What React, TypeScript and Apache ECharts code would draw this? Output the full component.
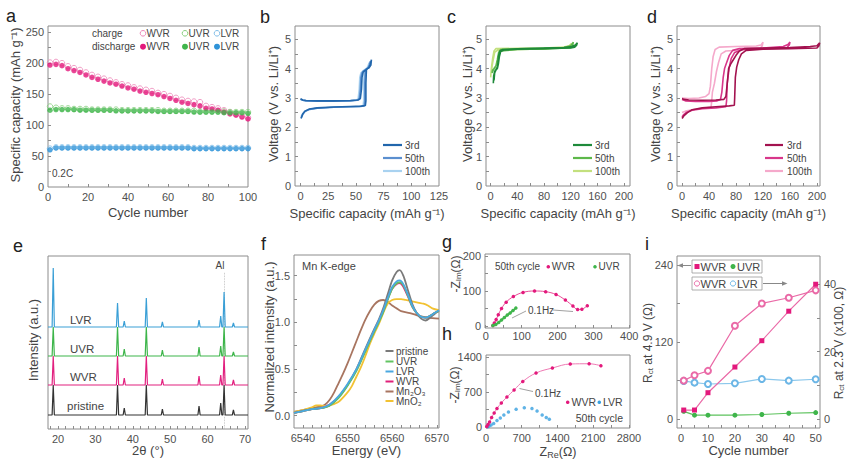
import React, { useEffect, useRef } from 'react';
import * as echarts from 'echarts';

const FONT = '"Liberation Sans", Arial, Helvetica, sans-serif';
const TXT = '#444444';
const LBL = '#505050';
const FRAME = '#8c8c8c';

const PINK = '#e3197c';
const PINK_O = '#ee86b8';
const PINK_L = '#ea6aa7';
const GREEN = '#3fb54b';
const GREEN_O = '#86d07c';
const BLUE = '#2f93d8';
const BLUE_O = '#80bde8';

// ---------- panel a : cycling (every 3rd cycle plotted)
const cyclesA = [1, 4, 7, 10, 13, 16, 19, 22, 25, 28, 31, 34, 37, 40, 43, 46, 49, 52, 55, 58, 61, 64, 67, 70, 73, 76, 79, 82, 85, 88, 91, 94, 97, 100];
const wvrChargeA = [201, 202, 200, 195, 192, 189, 185, 181, 178, 175, 172, 169, 166, 164, 161, 159, 157, 155, 152, 150, 147, 144, 141, 139, 138, 137, 131, 129, 127, 124, 121, 118, 115, 112];
const wvrDischargeA = [197, 198, 196, 191, 188, 185, 181, 177, 174, 171, 168, 166, 163, 160, 158, 155, 153, 151, 149, 146, 143, 140, 137, 135, 133, 131, 127, 126, 124, 121, 118, 116, 113, 110];
const uvrChargeA = [130, 128, 127, 127, 126, 126, 126, 125, 125, 125, 125, 125, 124, 124, 124, 124, 124, 124, 124, 123, 123, 123, 123, 123, 123, 122, 122, 122, 122, 122, 121, 121, 121, 121];
const uvrDischargeA = [124, 125, 125, 125, 125, 124, 124, 124, 124, 124, 124, 123, 123, 123, 123, 123, 123, 123, 122, 122, 122, 122, 122, 122, 121, 121, 121, 121, 121, 120, 120, 120, 120, 119];
const lvrChargeA = [62, 64, 64, 64, 64, 64, 64, 64, 64, 64, 64, 64, 64, 64, 64, 64, 64, 64, 64, 64, 64, 64, 64, 64, 63, 63, 63, 63, 63, 63, 63, 63, 63, 63];
const lvrDischargeA = [60, 63, 63, 63, 63, 63, 63, 63, 63, 63, 63, 63, 63, 63, 63, 63, 63, 63, 63, 63, 63, 63, 63, 63, 62, 62, 62, 62, 62, 62, 62, 62, 62, 62];

// ---------- panel b : LVR voltage profiles [capacity, voltage]
const lvr3rd = [[0, 2.97], [2, 2.93], [5, 2.91], [15, 2.9], [30, 2.9], [45, 2.91], [52, 2.93], [54, 2.98], [55, 3.3], [55.5, 3.7], [56.5, 3.88], [58, 3.93], [60, 3.98], [62, 4.05], [63, 4.15], [64, 4.3], [63.5, 4.12], [62, 4.03], [59.5, 3.98], [59, 3.5], [59, 2.9], [58.5, 2.74], [55, 2.72], [45, 2.71], [30, 2.69], [15, 2.66], [8, 2.62], [4, 2.55], [2, 2.45], [0.5, 2.3]];
const lvr50th = [[0, 2.96], [2, 2.92], [5, 2.9], [15, 2.89], [30, 2.89], [45, 2.9], [51, 2.92], [53, 2.97], [54, 3.3], [54.5, 3.7], [55.5, 3.86], [57, 3.92], [59, 3.97], [61, 4.03], [62, 4.12], [63, 4.25], [62.5, 4.1], [61, 4.02], [58.5, 3.96], [58, 3.5], [58, 2.9], [57.5, 2.73], [54, 2.71], [45, 2.7], [30, 2.68], [15, 2.65], [8, 2.61], [4, 2.54], [2, 2.44], [0.5, 2.32]];
const lvr100th = [[0, 2.95], [2, 2.92], [5, 2.9], [15, 2.89], [30, 2.89], [45, 2.9], [50, 2.92], [52, 2.97], [53, 3.3], [53.5, 3.7], [54.5, 3.85], [56, 3.91], [58, 3.96], [60, 4.02], [61, 4.1], [62, 4.2], [61.5, 4.08], [60, 4.0], [57.5, 3.95], [57, 3.5], [57, 2.9], [56.5, 2.73], [53, 2.71], [45, 2.7], [30, 2.68], [15, 2.65], [8, 2.61], [4, 2.55], [2, 2.47], [0.5, 2.36]];

// ---------- panel c : UVR voltage profiles
const uvr3rd = [[4, 3.5], [4.5, 3.75], [6, 3.9], [8, 3.97], [10, 4.05], [11, 4.2], [12, 4.45], [14, 4.6], [18, 4.65], [40, 4.67], [80, 4.7], [110, 4.72], [122, 4.75], [127, 4.8], [130, 4.88], [129, 4.8], [126, 4.73], [120, 4.7], [80, 4.68], [40, 4.66], [20, 4.63], [15, 4.58], [13, 4.4], [11.5, 4.15], [10, 4.0], [8, 3.95], [6, 3.85], [5, 3.6]];
const uvr50th = [[2, 3.85], [3, 3.95], [5, 4.0], [8, 4.1], [10, 4.3], [12, 4.55], [15, 4.65], [40, 4.67], [80, 4.69], [110, 4.72], [120, 4.78], [124, 4.9], [123, 4.8], [120, 4.71], [80, 4.67], [40, 4.65], [15, 4.6], [12, 4.45], [10, 4.2], [7, 4.05], [4, 3.95], [2, 3.85]];
const uvr100th = [[0, 3.7], [1, 4.0], [3, 4.35], [5, 4.6], [8, 4.68], [40, 4.69], [80, 4.7], [110, 4.73], [118, 4.78], [121, 4.85], [118, 4.75], [80, 4.67], [40, 4.65], [10, 4.62], [6, 4.55], [3, 4.2], [1, 3.9]];

// ---------- panel d : WVR voltage profiles
const wvr3rd = [[0, 2.98], [3, 2.95], [10, 2.93], [30, 2.92], [50, 2.93], [62, 2.95], [65, 3.05], [67, 3.5], [69, 4.0], [72, 4.15], [76, 4.3], [80, 4.45], [85, 4.6], [92, 4.68], [120, 4.7], [160, 4.72], [190, 4.75], [200, 4.78], [204, 4.88], [203, 4.78], [200, 4.7], [160, 4.68], [120, 4.66], [95, 4.62], [88, 4.5], [84, 4.3], [81, 4.05], [79, 3.7], [78, 3.0], [77.5, 2.75], [70, 2.73], [50, 2.7], [30, 2.66], [15, 2.6], [8, 2.5], [3, 2.4], [0, 2.3]];
const wvr50th = [[0, 2.95], [5, 2.9], [20, 2.88], [40, 2.88], [52, 2.9], [57, 2.95], [59, 3.2], [61, 3.7], [63, 4.0], [66, 4.2], [70, 4.45], [75, 4.62], [85, 4.68], [120, 4.7], [150, 4.75], [157, 4.82], [160, 4.9], [159, 4.8], [155, 4.7], [120, 4.68], [90, 4.65], [78, 4.55], [73, 4.35], [70, 4.05], [67, 3.5], [66, 2.9], [65, 2.7], [50, 2.66], [30, 2.63], [15, 2.58], [6, 2.5], [2, 2.42], [0, 2.35]];
const wvr100th = [[0, 3.0], [10, 2.98], [25, 3.0], [35, 3.05], [40, 3.15], [42, 3.4], [44, 4.0], [46, 4.4], [49, 4.65], [55, 4.73], [80, 4.75], [110, 4.77], [117, 4.8], [120, 4.9], [119, 4.78], [115, 4.66], [90, 4.63], [65, 4.6], [58, 4.5], [54, 4.2], [51, 3.9], [48, 3.5], [45, 3.2], [44, 2.9], [43, 2.68], [30, 2.65], [15, 2.6], [5, 2.55], [0, 2.5]];

// ---------- panel e : XRD peaks (2θ) and heights for each sample, stacked baselines
const xrdPeaks = [18.7, 35.9, 37.7, 43.6, 47.9, 57.7, 63.5, 64.4, 66.9];
const pristineHeights = [30, 30, 7, 30, 6, 9, 12, 30, 5];
const wvrHeights = [29, 29, 7, 29, 6, 9, 10, 29, 5];
const uvrHeights = [29, 29, 7, 29, 6, 9, 10, 29, 4];
const lvrHeights = [59, 24, 6, 29, 5, 7, 11, 35, 4];
const xrdBaselines = [14, 44, 73, 102]; // pristine, WVR, UVR, LVR
const alPosition = 64.4;

// ---------- panel f : Mn K-edge XANES [energy, intensity]
const xanesPristine = [[6538, 0.03], [6540, 0.05], [6542, 0.07], [6544, 0.08], [6546, 0.11], [6548, 0.2], [6550, 0.33], [6552, 0.5], [6554, 0.72], [6556, 0.93], [6557, 1.03], [6558, 1.15], [6559, 1.3], [6560, 1.45], [6561, 1.54], [6561.7, 1.56], [6562.5, 1.5], [6563.5, 1.35], [6564.5, 1.2], [6565.5, 1.1], [6566.5, 1.04], [6567.5, 1.02], [6568.5, 1.05], [6569.5, 1.09], [6570.5, 1.13]];
const xanesUVR = [[6538, 0.03], [6540, 0.05], [6542, 0.07], [6544, 0.08], [6546, 0.11], [6548, 0.19], [6550, 0.32], [6552, 0.48], [6554, 0.69], [6556, 0.9], [6557, 1.0], [6558, 1.11], [6559, 1.24], [6560, 1.36], [6561, 1.42], [6561.8, 1.43], [6562.6, 1.39], [6563.5, 1.29], [6564.5, 1.17], [6565.5, 1.1], [6566.5, 1.06], [6567.5, 1.05], [6568.5, 1.07], [6569.5, 1.1], [6570.5, 1.12]];
const xanesLVR = [[6538, 0.03], [6540, 0.05], [6542, 0.07], [6544, 0.08], [6546, 0.12], [6548, 0.21], [6550, 0.34], [6552, 0.5], [6554, 0.71], [6556, 0.92], [6557, 1.02], [6558, 1.13], [6559, 1.26], [6560, 1.38], [6561, 1.44], [6561.7, 1.45], [6562.5, 1.41], [6563.5, 1.3], [6564.5, 1.18], [6565.5, 1.1], [6566.5, 1.06], [6567.5, 1.05], [6568.5, 1.07], [6569.5, 1.1], [6570.5, 1.13]];
const xanesWVR = [[6538, 0.03], [6540, 0.05], [6542, 0.07], [6544, 0.08], [6546, 0.12], [6548, 0.2], [6550, 0.33], [6552, 0.49], [6554, 0.7], [6556, 0.91], [6557, 1.01], [6558, 1.12], [6559, 1.25], [6560, 1.36], [6561, 1.41], [6561.6, 1.42], [6562.4, 1.39], [6563.5, 1.28], [6564.5, 1.17], [6565.5, 1.1], [6566.5, 1.06], [6567.5, 1.05], [6568.5, 1.07], [6569.5, 1.1], [6570.5, 1.12]];
const xanesMn2O3 = [[6538, 0.04], [6540, 0.06], [6542, 0.08], [6544, 0.1], [6545, 0.12], [6546, 0.17], [6547, 0.25], [6548, 0.35], [6549, 0.45], [6550, 0.56], [6551, 0.68], [6552, 0.8], [6553, 0.92], [6554, 1.03], [6555, 1.12], [6556, 1.19], [6557, 1.23], [6558, 1.24], [6559, 1.22], [6560, 1.18], [6561, 1.15], [6562, 1.12], [6564, 1.1], [6566, 1.07], [6568, 1.05], [6570.5, 1.04]];
const xanesMnO2 = [[6538, 0.04], [6540, 0.06], [6542, 0.09], [6543, 0.11], [6544, 0.11], [6545, 0.1], [6546, 0.11], [6548, 0.15], [6550, 0.25], [6551, 0.32], [6552, 0.42], [6553, 0.52], [6554, 0.64], [6555, 0.77], [6556, 0.88], [6557, 0.98], [6558, 1.1], [6559, 1.2], [6560, 1.24], [6561, 1.25], [6562, 1.25], [6563, 1.24], [6564, 1.23], [6565, 1.22], [6566, 1.21], [6567, 1.2], [6568, 1.18], [6569, 1.15], [6570.5, 1.13]];

// ---------- panel g : EIS at 4.9 V [Z_Re, -Z_Im]
const eisG_WVR = [[20, 1], [24, 8], [29, 18], [35, 32], [44, 50], [57, 68], [77, 84], [104, 96], [136, 100], [167, 98], [196, 90], [222, 74], [243, 57], [256, 47], [268, 48], [283, 58]];
const eisG_UVR = [[20, 1], [28, 4], [36, 10], [44, 17], [52, 24], [60, 31], [68, 37], [76, 44], [84, 51]];

// ---------- panel h : EIS at 2.3 V
const eisH_WVR = [[15, 10], [40, 50], [70, 100], [110, 190], [160, 280], [215, 370], [300, 480], [410, 600], [550, 740], [720, 910], [980, 1080], [1300, 1180], [1650, 1260], [2020, 1265], [2250, 1225]];
const eisH_LVR = [[30, 5], [60, 20], [100, 40], [150, 70], [215, 130], [280, 180], [350, 240], [440, 300], [590, 355], [750, 385], [900, 370], [1000, 320], [1100, 240], [1180, 190], [1240, 155]];

// ---------- panel i : Rct vs cycle
const cyclesI = [1, 5, 10, 20, 30, 40, 50];
const rctWVR49 = [14, 14, 41, 81, 122, 168, 210];
const rctUVR49 = [12, 6, 6, 6, 7, 9, 10];
const rctWVR23 = [11.4, 13, 14.3, 27.7, 34.3, 36, 38.2];
const rctLVR23 = [11.3, 10.8, 10.4, 10.6, 11.9, 11.4, 11.8];

// ---------- axis titles
const capName = 'Specific capacity (mAh g⁻¹)';
const voltName = 'Voltage (V vs. Li/Li⁺)';

// ---------- helpers
const pairs = (xs: number[], ys: number[]) => xs.map((x, i) => [x, ys[i]]);
const range = (a: number, b: number, s: number) => {
  const out: number[] = [];
  for (let v = a; v <= b + 1e-9; v += s) out.push(Math.round(v * 1000) / 1000);
  return out;
};
const xrdPattern = (base: number, heights: number[], xmin: number, xmax: number) => {
  const pts: number[][] = [[xmin, base]];
  xrdPeaks.forEach((p, i) => {
    pts.push([p - 0.3, base], [p, base + heights[i]], [p + 0.3, base]);
  });
  pts.push([xmax, base]);
  return pts;
};

function ax(gi: number, min: number, max: number, labels: number[], ticks: number[], extra: any = {}, fmt?: (v: number) => string) {
  return {
    type: 'value',
    gridIndex: gi,
    min,
    max,
    axisLine: { show: false, onZero: false },
    axisTick: { show: ticks.length > 0, inside: true, length: 3, customValues: ticks, lineStyle: { color: FRAME, width: 1 } },
    axisLabel: {
      show: labels.length > 0,
      customValues: labels,
      fontSize: 11,
      color: LBL,
      fontFamily: FONT,
      margin: 4,
      formatter: fmt || ((v: number) => String(v)),
    },
    splitLine: { show: false },
    ...extra,
  };
}

const ln = (xi: number, yi: number, data: any[], color: string, width = 1.5, extra: any = {}) => ({
  type: 'line',
  xAxisIndex: xi,
  yAxisIndex: yi,
  data,
  symbol: 'none',
  showSymbol: false,
  lineStyle: { color, width },
  itemStyle: { color },
  silent: true,
  ...extra,
});
const sc = (xi: number, yi: number, data: any[], color: string, filled: boolean, size = 5.5) => ({
  type: 'scatter',
  xAxisIndex: xi,
  yAxisIndex: yi,
  data,
  symbol: 'circle',
  symbolSize: size,
  itemStyle: filled ? { color } : { color: 'rgba(255,255,255,0)', borderColor: color, borderWidth: 1 },
  silent: true,
});

const T = (text: string, x: number, y: number, size = 10, align = 'left', color = TXT) => ({
  type: 'text',
  x,
  y,
  silent: true,
  style: { text, fill: color, fontSize: size, fontFamily: FONT, align, verticalAlign: 'middle' },
});
const SUBRICH = (size: number) => ({
  sub: { fontSize: Math.round(size * 0.68), fontFamily: FONT, fill: TXT, verticalAlign: 'bottom', padding: [Math.round(size * 0.45), 0, 0, 0] },
});
// axis title (rotated for y axes)
const AT = (text: string, x: number, y: number, size: number, vertical: boolean) => ({
  type: 'text',
  x,
  y,
  rotation: vertical ? Math.PI / 2 : 0,
  silent: true,
  style: { text, fill: TXT, fontSize: size, fontFamily: FONT, align: 'center', verticalAlign: 'middle', rich: SUBRICH(size) },
});
const C = (cx: number, cy: number, r: number, fill: string, stroke?: string) => ({
  type: 'circle',
  silent: true,
  shape: { cx, cy, r },
  style: { fill, stroke: stroke || null, lineWidth: 1 },
});
const L = (x1: number, y1: number, x2: number, y2: number, stroke: string, w = 1) => ({
  type: 'line',
  silent: true,
  shape: { x1, y1, x2, y2 },
  style: { stroke, lineWidth: w },
});

const B3 = ['#2166ac', '#5b8fcf', '#a9d2f0'];
const G3 = ['#1e8a3a', '#5db84a', '#c3e07e'];
const P3 = ['#a3124f', '#d8378a', '#f5a9cb'];
const F6 = ['#7a7a7a', '#62c462', '#4aa8e0', '#e0207a', '#a87560', '#f2c232'];
const F6names = ['pristine', 'UVR', 'LVR', 'WVR', 'Mn₂O₃', 'MnO₂'];

function buildOption() {
  const grids = [
    { left: 48, top: 26, width: 200, height: 161 },
    { left: 295, top: 26, width: 144, height: 160 },
    { left: 486, top: 26, width: 144, height: 160 },
    { left: 677, top: 26, width: 143, height: 160 },
    { left: 48, top: 256, width: 200, height: 173 },
    { left: 294, top: 255, width: 145, height: 173 },
    { left: 485, top: 254, width: 145, height: 74 },
    { left: 486, top: 355, width: 144, height: 73 },
    { left: 677, top: 256, width: 143, height: 172 },
  ].map((g) => ({ ...g, show: true, borderColor: FRAME, borderWidth: 1, backgroundColor: 'transparent' }));

  const xAxis = [
    ax(0, 0, 100, range(0, 100, 20), range(10, 90, 10)),
    ax(1, -5, 125, range(0, 125, 25), range(0, 112.5, 12.5)),
    ax(2, -7, 209, range(0, 200, 40), range(0, 200, 20)),
    ax(3, -7.5, 204.5, range(0, 200, 40), range(0, 200, 20)),
    ax(4, 17.3, 70.8, range(20, 70, 10), range(18, 70, 2)),
    ax(5, 6538, 6570.5, range(6540, 6570, 10), range(6540, 6570, 2)),
    ax(6, -2, 402, range(0, 400, 100), range(0, 400, 50), { axisLabel: { customValues: range(0, 400, 100), fontSize: 11, color: LBL, fontFamily: FONT, margin: 2, formatter: (v: number) => String(v) } }),
    ax(7, 0, 2820, range(0, 2800, 700), range(0, 2800, 350)),
    ax(8, -1.5, 51.6, range(0, 50, 10), range(0, 50, 5)),
  ];
  const yAxis = [
    ax(0, 0, 260, range(0, 250, 50), range(25, 250, 25)),
    ax(1, 0, 5.45, range(0, 5, 1), range(0.5, 5, 0.5)),
    ax(2, 0, 5.45, range(0, 5, 1), range(0.5, 5, 0.5)),
    ax(3, 0, 5.45, range(0, 5, 1), range(0.5, 5, 0.5)),
    ax(4, 0, 173, [], []),
    ax(5, -0.132, 1.722, [0, 0.5, 1, 1.5], range(0, 1.5, 0.25), {}, (v: number) => v.toFixed(1)),
    ax(6, -6, 206, [0, 100, 200], range(0, 200, 50)),
    ax(7, -20, 1440, [0, 700, 1400], range(0, 1400, 350)),
    ax(8, -14, 254, [0, 120, 240], range(0, 240, 60), { position: 'left' }),
    ax(8, -2.67, 48.4, [0, 20, 40], range(0, 40, 10), { position: 'right' }),
  ];

  const series: any[] = [];
  // a
  series.push(sc(0, 0, pairs(cyclesA, wvrChargeA), PINK_O, false));
  series.push(sc(0, 0, pairs(cyclesA, uvrChargeA), GREEN_O, false));
  series.push(sc(0, 0, pairs(cyclesA, lvrChargeA), BLUE_O, false));
  series.push(sc(0, 0, pairs(cyclesA, wvrDischargeA), PINK, true));
  series.push(sc(0, 0, pairs(cyclesA, uvrDischargeA), GREEN, true));
  series.push(sc(0, 0, pairs(cyclesA, lvrDischargeA), BLUE, true));
  // b, c, d (draw 100th first so 3rd is on top)
  [lvr100th, lvr50th, lvr3rd].forEach((d, i) => series.push(ln(1, 1, d, B3[2 - i], 1.6)));
  [uvr100th, uvr50th, uvr3rd].forEach((d, i) => series.push(ln(2, 2, d, G3[2 - i], 1.6)));
  [wvr100th, wvr50th, wvr3rd].forEach((d, i) => series.push(ln(3, 3, d, P3[2 - i], 1.6)));
  // e
  const xmin = 17.3, xmax = 70.8;
  series.push(
    ln(4, 4, xrdPattern(xrdBaselines[0], pristineHeights, xmin, xmax), '#333333', 1.2, {
      z: 3,
      markLine: {
        silent: true,
        symbol: 'none',
        z: 1,
        label: { show: false },
        lineStyle: { type: 'dotted', color: '#b5b5b5', width: 0.8 },
        data: [[{ coord: [alPosition, 0] }, { coord: [alPosition, 157] }]],
      },
    })
  );
  series.push(ln(4, 4, xrdPattern(xrdBaselines[1], wvrHeights, xmin, xmax), '#e2207f', 1.2, { z: 3 }));
  series.push(ln(4, 4, xrdPattern(xrdBaselines[2], uvrHeights, xmin, xmax), '#3db54a', 1.2, { z: 3 }));
  series.push(ln(4, 4, xrdPattern(xrdBaselines[3], lvrHeights, xmin, xmax), '#3a9fd6', 1.2, { z: 3 }));
  // f
  const fData = [xanesPristine, xanesUVR, xanesLVR, xanesWVR, xanesMn2O3, xanesMnO2];
  [4, 5, 0, 3, 1, 2].forEach((k) => series.push(ln(5, 5, fData[k], F6[k], 1.8, { smooth: 0.3 })));
  // g
  series.push(ln(6, 6, eisG_WVR, '#e84a97', 1, { smooth: 0.4, symbol: 'circle', showSymbol: true, symbolSize: 3.5, itemStyle: { color: PINK } }));
  series.push(ln(6, 6, eisG_UVR, GREEN, 1.8, { symbol: 'circle', showSymbol: true, symbolSize: 3.5, itemStyle: { color: GREEN } }));
  // h
  series.push(ln(7, 7, eisH_WVR, '#ee7ab3', 1, { smooth: 0.4, symbol: 'circle', showSymbol: true, symbolSize: 3.5, itemStyle: { color: PINK } }));
  series.push(sc(7, 7, eisH_LVR, '#38a0e0', true, 3.5));
  // i
  series.push(ln(8, 8, pairs(cyclesI, rctUVR49), '#5cc25c', 1.2, { symbol: 'circle', showSymbol: true, symbolSize: 5, itemStyle: { color: GREEN } }));
  series.push(ln(8, 9, pairs(cyclesI, rctLVR23), '#8cc8ec', 1.2, { symbol: 'emptyCircle', showSymbol: true, symbolSize: 6, itemStyle: { color: '#6cb6e6', borderWidth: 1 } }));
  series.push(ln(8, 9, pairs(cyclesI, rctWVR23), PINK_L, 1.2, { symbol: 'emptyCircle', showSymbol: true, symbolSize: 6, itemStyle: { color: PINK_L, borderWidth: 1 } }));
  series.push(ln(8, 8, pairs(cyclesI, rctWVR49), PINK_L, 1.2, { symbol: 'rect', showSymbol: true, symbolSize: 5, itemStyle: { color: PINK } }));

  const graphic: any[] = [];
  // axis titles
  graphic.push(AT('Cycle number', 148, 212.5, 13, false));
  graphic.push(AT(capName, 15, 105, 13, true));
  graphic.push(AT(capName, 367, 213, 13, false));
  graphic.push(AT(voltName, 273, 104, 13, true));
  graphic.push(AT(capName, 558, 213, 13, false));
  graphic.push(AT(voltName, 467, 104, 13, true));
  graphic.push(AT(capName, 748.5, 213, 13, false));
  graphic.push(AT(voltName, 655, 104, 13, true));
  graphic.push(AT('2θ (°)', 148, 450.5, 13, false));
  graphic.push(AT('Intensity (a.u.)', 33, 340, 13, true));
  graphic.push(AT('Energy (eV)', 366.5, 450.5, 13, false));
  graphic.push(AT('Normalized intensity (a.u.)', 269.5, 337, 13, true));
  graphic.push(AT('-Z{sub|Im}(Ω)', 456, 274, 12, true));
  graphic.push(AT('-Z{sub|Im}(Ω)', 455, 385, 12, true));
  graphic.push(AT('Z{sub|Re}(Ω)', 558, 452, 12.5, false));
  graphic.push(AT('R{sub|ct} at 4.9 V (Ω)', 648, 343, 12, true));
  graphic.push(AT('R{sub|ct} at 2.3 V (x100, Ω)', 838.5, 343, 12, true));
  graphic.push(AT('Cycle number', 748.5, 450.5, 13, false));

  // panel letters
  [
    ['a', 6, 15.8], ['b', 260, 17], ['c', 447, 16.5], ['d', 647, 16.5],
    ['e', 13, 245.5], ['f', 261, 244], ['g', 442, 242], ['h', 442, 334], ['i', 645, 244],
  ].forEach(([t, x, y]) => graphic.push(T(t as string, x as number, y as number, 18, 'left', '#222')));

  // a legend
  graphic.push(T('charge', 92, 33.3));
  graphic.push(T('discharge', 92, 46.7));
  const aCols = [[143, PINK_O, PINK, 'WVR'], [185, GREEN_O, GREEN, 'UVR'], [217, BLUE_O, BLUE, 'LVR']];
  aCols.forEach(([x, co, cf, t]) => {
    graphic.push(C(x as number, 33.3, 2.8, 'none', co as string));
    graphic.push(T(t as string, (x as number) + 3.5, 33.3));
    graphic.push(C(x as number, 46.7, 3, cf as string));
    graphic.push(T(t as string, (x as number) + 3.5, 46.7));
  });
  graphic.push(T('0.2C', 52, 173.5));

  // b,c,d legends
  const cyc = ['3rd', '50th', '100th'];
  const legRows = [145, 158, 171];
  [[383, 402, 405, B3], [573, 592, 595, G3], [765, 783, 787, P3]].forEach(([x1, x2, tx, cols]) => {
    legRows.forEach((y, i) => {
      graphic.push(L(x1 as number, y, x2 as number, y, (cols as string[])[i], 2.2));
      graphic.push(T(cyc[i], tx as number, y, 10));
    });
  });

  // e labels
  graphic.push(T('LVR', 70, 320, 11.5));
  graphic.push(T('UVR', 70, 348.5, 11.5));
  graphic.push(T('WVR', 70, 377, 11.5));
  graphic.push(T('pristine', 67, 406, 11.5));
  graphic.push(T('Al', 220, 265, 10, 'center'));

  // f legend
  graphic.push(T('Mn K-edge', 302, 266, 11));
  const fRows = [351, 361.5, 371.5, 381.5, 391.5, 401];
  F6names.forEach((nm, i) => {
    graphic.push(L(385.5, fRows[i], 393.5, fRows[i], F6[i], 2));
    graphic.push(T(nm, 396, fRows[i], 10));
  });

  // g legend + annotation
  graphic.push(T('50th cycle', 495, 266.7, 10));
  graphic.push(C(548.3, 266.7, 1.8, PINK));
  graphic.push(T('WVR', 551.7, 266.7, 10));
  graphic.push(C(595, 266.7, 1.8, GREEN));
  graphic.push(T('UVR', 598.5, 266.7, 10));
  graphic.push(T('0.1Hz', 528, 310, 10));
  graphic.push(L(526, 311, 512, 318, '#888', 0.8));
  graphic.push(L(553, 310, 573, 311.5, '#888', 0.8));

  // h legend + annotation
  graphic.push(C(567.7, 402.3, 1.8, PINK));
  graphic.push(T('WVR', 571.5, 402.3, 10.5));
  graphic.push(C(599.3, 402.3, 1.8, '#38a0e0'));
  graphic.push(T('LVR', 603, 402.3, 10.5));
  graphic.push(T('50th cycle', 623, 417.7, 10.5, 'right'));
  graphic.push(T('0.1Hz', 535, 393.3, 10));
  graphic.push(L(533, 391.5, 519.5, 388.5, '#888', 0.8));

  // i legends
  graphic.push({ type: 'rect', silent: true, shape: { x: 692, y: 260, width: 70, height: 13 }, style: { fill: 'none', stroke: '#999', lineWidth: 0.8 } });
  graphic.push({ type: 'rect', silent: true, shape: { x: 692, y: 277, width: 70, height: 13 }, style: { fill: 'none', stroke: '#999', lineWidth: 0.8 } });
  graphic.push({ type: 'rect', silent: true, shape: { x: 694.5, y: 264, width: 5, height: 5 }, style: { fill: PINK } });
  graphic.push(T('WVR', 700.5, 266.5, 11));
  graphic.push(C(733, 266.5, 2.5, GREEN));
  graphic.push(T('UVR', 737, 266.5, 11));
  graphic.push(C(697, 283.5, 2.6, '#fff', PINK_L));
  graphic.push(T('WVR', 700.5, 283.5, 11));
  graphic.push(C(733, 283.5, 2.6, '#fff', '#6cb6e6'));
  graphic.push(T('LVR', 737, 283.5, 11));
  graphic.push(L(691, 265.5, 682, 265.5, '#888', 1));
  graphic.push({ type: 'polygon', silent: true, shape: { points: [[677.5, 265.5], [683, 263.3], [683, 267.7]] }, style: { fill: '#888' } });
  graphic.push(L(763, 283.5, 782, 283.5, '#888', 1));
  graphic.push({ type: 'polygon', silent: true, shape: { points: [[787.5, 283.5], [782, 281.3], [782, 285.7]] }, style: { fill: '#888' } });

  return {
    animation: false,
    backgroundColor: '#ffffff',
    textStyle: { fontFamily: FONT },
    grid: grids,
    xAxis,
    yAxis,
    series,
    graphic,
  };
}

export default function App() {
  const ref = useRef<HTMLDivElement>(null);
  useEffect(() => {
    document.body.style.margin = '0';
    const chart = echarts.init(ref.current as HTMLDivElement, null, { renderer: 'svg' });
    chart.setOption(buildOption() as any);
    return () => chart.dispose();
  }, []);
  return <div ref={ref} style={{ width: 865, height: 470, background: '#fff' }} />;
}
